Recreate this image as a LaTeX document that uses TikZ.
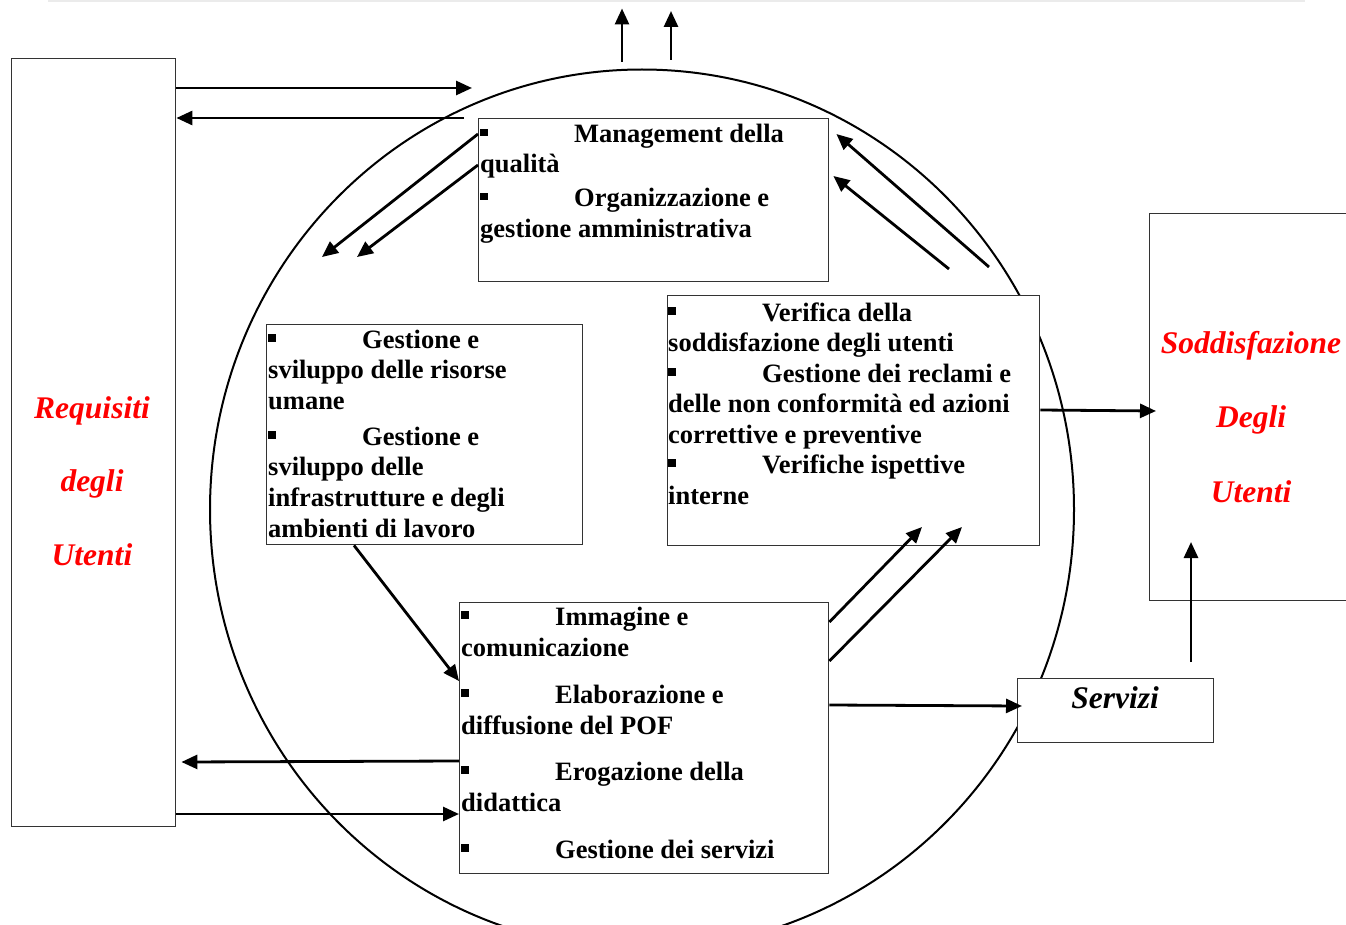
\documentclass[tikz,border=0pt]{standalone}
\usepackage{fontspec}
\setmainfont{Liberation Serif}
\usetikzlibrary{arrows.meta,calc}
\newcommand{\bsq}{\makebox[94pt][l]{\rule[6.5pt]{7.5pt}{7.5pt}}}
\begin{document}
\begin{tikzpicture}[x=1pt,y=-1pt,
  box/.style={draw=black!80, line width=1.4pt, fill=white, anchor=north west, inner sep=0pt},
  txt/.style={anchor=base west, inner sep=0pt, font=\fontsize{26.5}{31}\selectfont\bfseries},
  redtxt/.style={anchor=base, inner sep=0pt, text=red, font=\fontsize{31.5}{36}\selectfont\bfseries\itshape},
  arr/.style={line width=2.8pt, -{Triangle[length=16pt,width=14pt]}},
]
\useasboundingbox (0,0) rectangle (1346,925);
\clip (0,0) rectangle (1346,925);
\fill[white] (0,0) rectangle (1346,925);
\draw[black!8, line width=1.5pt] (48,1) -- (1305,1);

% ring
\draw[line width=2pt] (642,509.5) ellipse [x radius=432, y radius=440];

% boxes
\node[box, minimum width=164pt, minimum height=768pt] (left) at (11,58) {};
\node[box, minimum width=250pt, minimum height=387pt] (sodd) at (1149,213) {};
\node[box, minimum width=350pt, minimum height=163pt] (mgmt) at (478,118) {};
\node[box, minimum width=316pt, minimum height=220pt] (hr) at (266,324) {};
\node[box, minimum width=372pt, minimum height=250pt] (ver) at (667,295) {};
\node[box, minimum width=369pt, minimum height=271pt] (imm) at (459,602) {};
\node[box, minimum width=196pt, minimum height=64pt] (serv) at (1017,678) {};

% free ends
\coordinate (a1e) at (472,88);
\coordinate (a2s) at (464,118);
\coordinate (a3e) at (322,257);
\coordinate (a4e) at (357,257);
\coordinate (t1s) at (622,62);
\coordinate (t1e) at (622,8.5);
\coordinate (t2s) at (671,60);
\coordinate (t2e) at (671,11);
\coordinate (a7s) at (989,267);
\coordinate (a8s) at (949,269);
\coordinate (a10s) at (1191,662);
\coordinate (a10e) at (1191,542);
\coordinate (a12e) at (922,527);
\coordinate (a13e) at (962,527);

% arrows
\draw[arr] (left.east |- 0,88) -- (a1e);
\draw[arr] (a2s) -- (left.east |- 0,118);
\draw[arr] (mgmt.west |- 0,134) -- (a3e);
\draw[arr] (mgmt.west |- 0,165) -- (a4e);
\draw[arr] (t1s) -- (t1e);
\draw[arr] (t2s) -- (t2e);
\draw[arr] (a7s) -- ($(mgmt.east |- 0,134)+(7,0)$);
\draw[arr] (a8s) -- ($(mgmt.east |- 0,176)+(4,0)$);
\draw[arr] (ver.east |- 0,410) -- ($(sodd.west |- 0,411)+(7,0)$);
\draw[arr] (a10s) -- (a10e);
\draw[arr] (imm.east |- 0,705) -- ($(serv.west |- 0,706)+(5,0)$);
\draw[arr] (imm.east |- 0,622) -- (a12e);
\draw[arr] (imm.east |- 0,661) -- (a13e);
\draw[arr] (hr.south -| 354,0) -- (imm.west |- 0,681);
\draw[arr] (imm.west |- 0,761) -- ($(left.east |- 0,762)+(5,0)$);
\draw[arr] (left.east |- 0,814) -- (imm.west |- 0,814);

% texts: management
\node[txt] (m1) at (480,143) {\bsq Management della};
\node[txt] (m2) at (480,173) {qualità};
\node[txt] (m3) at (480,207) {\bsq Organizzazione e};
\node[txt] (m4) at (480,238) {gestione amministrativa};
% human resources
\node[txt] (h1) at (268,348) {\bsq Gestione e};
\node[txt] (h2) at (268,378) {sviluppo delle risorse};
\node[txt] (h3) at (268,409) {umane};
\node[txt] (h4) at (268,445) {\bsq Gestione e};
\node[txt] (h5) at (268,475) {sviluppo delle};
\node[txt] (h6) at (268,506) {infrastrutture e degli};
\node[txt] (h7) at (268,537) {ambienti di lavoro};
% verifica
\node[txt] (v1) at (668,321) {\bsq Verifica della};
\node[txt] (v2) at (668,351) {soddisfazione degli utenti};
\node[txt] (v3) at (668,382) {\bsq Gestione dei reclami e};
\node[txt] (v4) at (668,412) {delle non conformità ed azioni};
\node[txt] (v5) at (668,443) {correttive e preventive};
\node[txt] (v6) at (668,473) {\bsq Verifiche ispettive};
\node[txt] (v7) at (668,504) {interne};
% immagine
\node[txt] (i1) at (461,625) {\bsq Immagine e};
\node[txt] (i2) at (461,656) {comunicazione};
\node[txt] (i3) at (461,703) {\bsq Elaborazione e};
\node[txt] (i4) at (461,734) {diffusione del POF};
\node[txt] (i5) at (461,780) {\bsq Erogazione della};
\node[txt] (i6) at (461,811) {didattica};
\node[txt] (i7) at (461,858) {\bsq Gestione dei servizi};

% red labels
\node[redtxt] (r1) at (92,418) {Requisiti};
\node[redtxt] (r2) at (92,491) {degli};
\node[redtxt] (r3) at (92,565) {Utenti};
\node[redtxt] (s1) at (1251,353) {Soddisfazione};
\node[redtxt] (s2) at (1251,427) {Degli};
\node[redtxt] (s3) at (1251,502) {Utenti};
\node[redtxt, text=black] (sv) at (1115,708) {Servizi};
\end{tikzpicture}
\end{document}
